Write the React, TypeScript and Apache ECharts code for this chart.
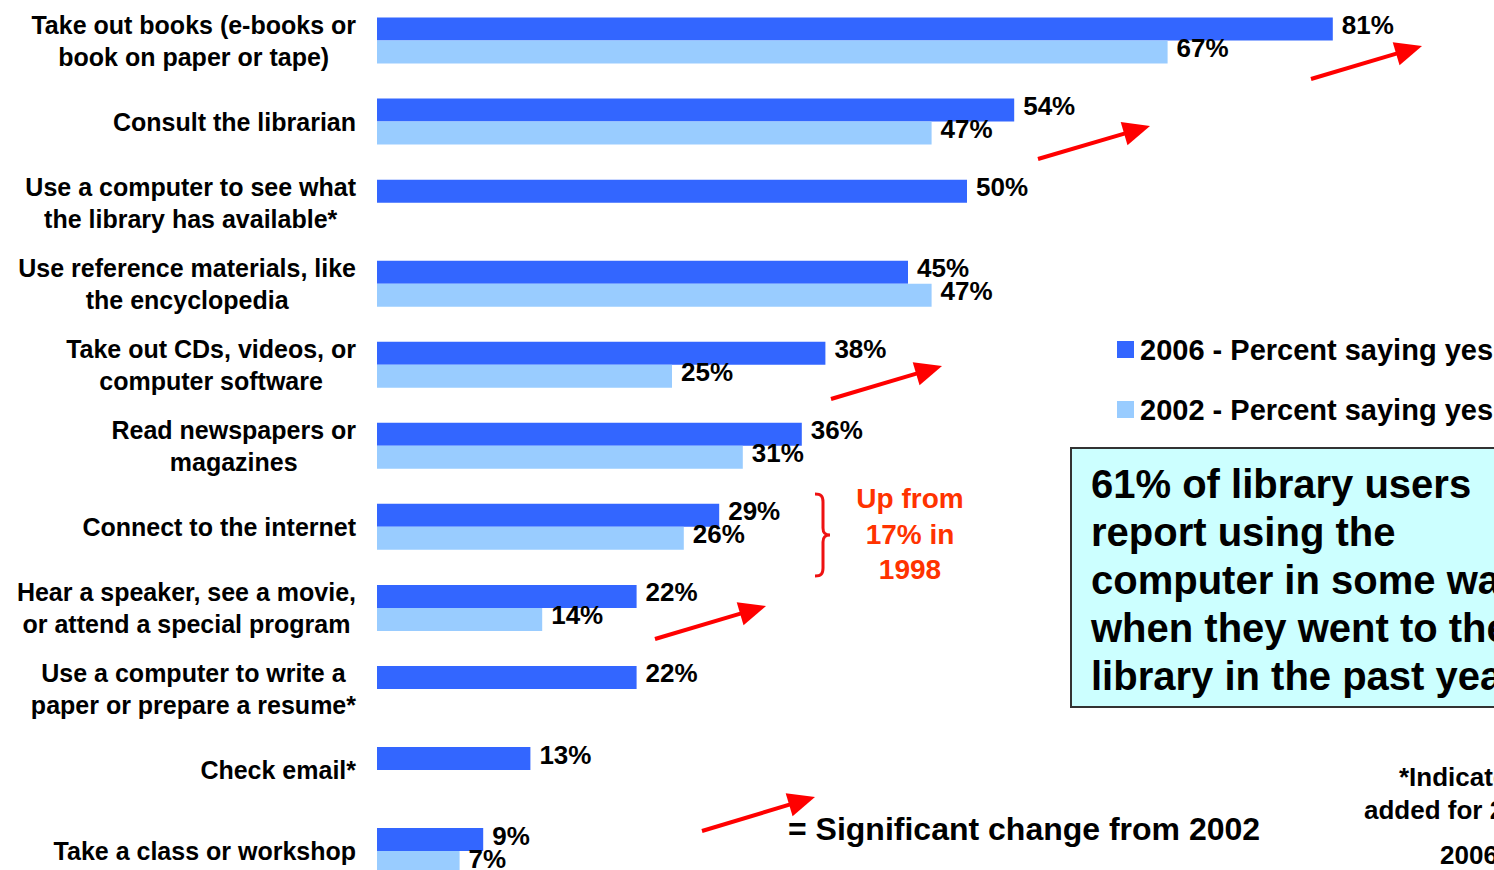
import React, { useEffect, useRef } from "react";
import * as echarts from "echarts";

const categories: string[] = [
  "Take out books (e-books or\nbook on paper or tape)",
  "Consult the librarian",
  "Use a computer to see what\nthe library has available*",
  "Use reference materials, like\nthe encyclopedia",
  "Take out CDs, videos, or\ncomputer software",
  "Read newspapers or\nmagazines",
  "Connect to the internet",
  "Hear a speaker, see a movie,\nor attend a special program",
  "Use a computer to write a\npaper or prepare a resume*",
  "Check email*",
  "Take a class or workshop",
];

const values2006: (number | null)[] = [81, 54, 50, 45, 38, 36, 29, 22, 22, 13, 9];
const values2002: (number | null)[] = [67, 47, null, 47, 25, 31, 26, 14, null, null, 7];

const seriesNames: string[] = ["2006 - Percent saying yes", "2002 - Percent saying yes"];

const boxText: string[] = [
  "61% of library users",
  "report using the",
  "computer in some way",
  "when they went to the",
  "library in the past year",
];
const noteText: string[] = ["Up from", "17% in", "1998"];
const legendNote = "= Significant change from 2002";

const FONT = "'Liberation Sans', Arial, Helvetica, sans-serif";
const C2006 = "#3366FF";
const C2002 = "#99CCFF";
const RED = "#FF0000";

function arrow(x1: number, y1: number, x2: number, y2: number): any[] {
  const dx = x2 - x1;
  const dy = y2 - y1;
  const len = Math.sqrt(dx * dx + dy * dy);
  const ux = dx / len;
  const uy = dy / len;
  const hl = 27;
  const hw = 12;
  const bx = x2 - ux * hl;
  const by = y2 - uy * hl;
  return [
    {
      type: "line",
      shape: { x1, y1, x2: bx + ux * 2, y2: by + uy * 2 },
      style: { stroke: RED, lineWidth: 4 },
    },
    {
      type: "polygon",
      shape: {
        points: [
          [x2, y2],
          [bx - uy * hw, by + ux * hw],
          [bx + uy * hw, by - ux * hw],
        ],
      },
      style: { fill: RED },
    },
  ];
}

let braceRegistered = false;

export default function App() {
  const ref = useRef<HTMLDivElement>(null);

  useEffect(() => {
    if (!ref.current) return;
    if (!braceRegistered) {
      const d =
        "M0,0 C6,0 8,2 8,8 L8,34 C8,39 10,41 15,41 C10,41 8,43 8,48 L8,74 C8,80 6,82 0,82";
      echarts.graphic.registerShape("brace", echarts.graphic.extendPath(d, {}) as any);
      braceRegistered = true;
    }
    const chart = echarts.init(ref.current, null, { renderer: "svg" });

    const labelStyle = {
      show: true,
      position: "right",
      distance: 9,
      offset: [0, -4],
      color: "#000",
      fontSize: 26,
      fontWeight: "bold",
      fontFamily: FONT,
      formatter: "{c}%",
    };

    const option: any = {
      animation: false,
      backgroundColor: "#fff",
      grid: { left: 377, width: 1180, top: -1.6, height: 893.2, containLabel: false },
      xAxis: { type: "value", min: 0, max: 100, show: false },
      yAxis: {
        type: "category",
        inverse: true,
        data: categories,
        axisLine: { show: false },
        axisTick: { show: false },
        splitLine: { show: false },
        axisLabel: {
          margin: 21,
          align: "right",
          formatter: (v: string) =>
            v
              .split("\n")
              .map((l) => `{c|${l}}`)
              .join("\n"),
          rich: {
            c: {
              align: "center",
              fontSize: 25,
              fontWeight: "bold",
              fontFamily: FONT,
              color: "#000",
              lineHeight: 32,
            },
          },
        },
      },
      legend: {
        orient: "vertical",
        left: 1112,
        top: 330,
        itemWidth: 17,
        itemHeight: 17,
        itemGap: 31,
        icon: "rect",
        textStyle: { fontSize: 29, fontWeight: "bold", fontFamily: FONT, color: "#000", padding: [0, 0, 0, 1] },
        data: seriesNames,
      },
      series: [
        {
          name: seriesNames[0],
          type: "bar",
          data: values2006,
          barWidth: 23,
          barGap: "0%",
          itemStyle: { color: C2006 },
          label: labelStyle,
        },
        {
          name: seriesNames[1],
          type: "bar",
          data: values2002,
          barWidth: 23,
          barGap: "0%",
          itemStyle: { color: C2002 },
          label: labelStyle,
        },
      ],
      graphic: [
        ...arrow(1311, 79, 1422, 46),
        ...arrow(1038, 159, 1150, 126),
        ...arrow(831, 399, 942, 366),
        ...arrow(655, 639, 766, 606),
        ...arrow(702, 831, 815, 797),
        {
          type: "brace",
          x: 815,
          y: 494,
          style: { stroke: "#EE1111", fill: "none", lineWidth: 3 },
        },
        {
          type: "text",
          x: 910,
          y: 481,
          style: {
            text: noteText.join("\n"),
            fill: "#FF3300",
            fontSize: 28,
            fontWeight: "bold",
            fontFamily: FONT,
            align: "center",
            verticalAlign: "top",
            lineHeight: 35.5,
          },
        },
        {
          type: "text",
          x: 788,
          y: 829,
          style: {
            text: legendNote,
            fill: "#000",
            fontSize: 32,
            fontWeight: "bold",
            fontFamily: FONT,
            align: "left",
            verticalAlign: "middle",
          },
        },
        {
          type: "rect",
          shape: { x: 1071, y: 448, width: 600, height: 259 },
          style: { fill: "#CCFFFF", stroke: "#333", lineWidth: 2 },
        },
        {
          type: "text",
          x: 1091,
          y: 460,
          style: {
            text: boxText.join("\n"),
            fill: "#000",
            fontSize: 40,
            fontWeight: "bold",
            fontFamily: FONT,
            align: "left",
            verticalAlign: "top",
            lineHeight: 48,
          },
        },
        {
          type: "text",
          x: 1399,
          y: 777,
          style: { text: "*Indicates item", fill: "#000", fontSize: 26, fontWeight: "bold", fontFamily: FONT, verticalAlign: "middle" },
        },
        {
          type: "text",
          x: 1364,
          y: 810,
          style: { text: "added for 2006", fill: "#000", fontSize: 26, fontWeight: "bold", fontFamily: FONT, verticalAlign: "middle" },
        },
        {
          type: "text",
          x: 1440,
          y: 855,
          style: { text: "2006 survey", fill: "#000", fontSize: 26, fontWeight: "bold", fontFamily: FONT, verticalAlign: "middle" },
        },
      ],
    };
    chart.setOption(option);
    return () => chart.dispose();
  }, []);

  return (
    <div style={{ position: "fixed", left: 0, top: 0, width: 1494, height: 870, overflow: "hidden", background: "#fff" }}>
      <div ref={ref} style={{ position: "absolute", left: 0, top: 0, width: 1700, height: 900 }} />
    </div>
  );
}
